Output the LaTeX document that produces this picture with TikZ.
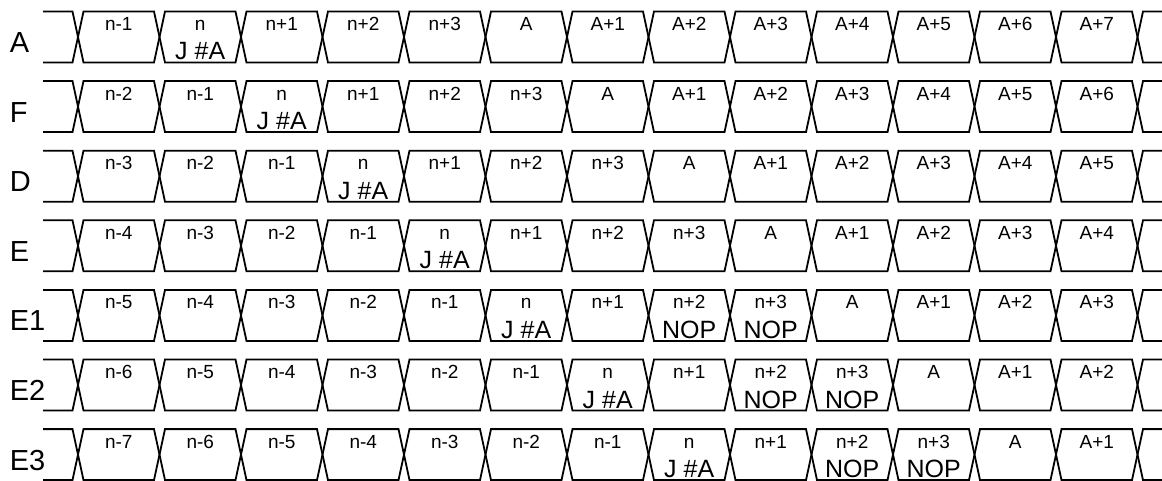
\documentclass[tikz,border=0pt]{standalone}
\usepackage{fontspec}
\setmainfont{Liberation Sans}
\begin{document}
\begin{tikzpicture}[x=1pt,y=-1pt,line width=1.8pt,
    toptext/.style={anchor=base,inner sep=0pt,font=\fontsize{19}{22}\selectfont},
    bottext/.style={anchor=base,inner sep=0pt,font=\fontsize{25}{28}\selectfont},
    rowname/.style={anchor=base west,inner sep=0pt,font=\fontsize{29}{32}\selectfont}]
  \useasboundingbox (0,0) rectangle (1162,481);
  \foreach \sig/\cells [count=\r from 0] in {
      A/{n-1/,n/J \#A,n+1/,n+2/,n+3/,A/,A+1/,A+2/,A+3/,A+4/,A+5/,A+6/,A+7/},
      F/{n-2/,n-1/,n/J \#A,n+1/,n+2/,n+3/,A/,A+1/,A+2/,A+3/,A+4/,A+5/,A+6/},
      D/{n-3/,n-2/,n-1/,n/J \#A,n+1/,n+2/,n+3/,A/,A+1/,A+2/,A+3/,A+4/,A+5/},
      E/{n-4/,n-3/,n-2/,n-1/,n/J \#A,n+1/,n+2/,n+3/,A/,A+1/,A+2/,A+3/,A+4/},
      E1/{n-5/,n-4/,n-3/,n-2/,n-1/,n/J \#A,n+1/,n+2/NOP,n+3/NOP,A/,A+1/,A+2/,A+3/},
      E2/{n-6/,n-5/,n-4/,n-3/,n-2/,n-1/,n/J \#A,n+1/,n+2/NOP,n+3/NOP,A/,A+1/,A+2/},
      E3/{n-7/,n-6/,n-5/,n-4/,n-3/,n-2/,n-1/,n/J \#A,n+1/,n+2/NOP,n+3/NOP,A/,A+1/}}{
    \pgfmathsetmacro{\ytop}{11.5+69.6*\r}
    \pgfmathsetmacro{\ymid}{\ytop+25.5}
    \pgfmathsetmacro{\ybot}{\ytop+51}
    \node[rowname] (lbl\r) at (9,\ytop+41) {\sig};
    % left stub
    \draw (43,\ytop) -- (72.5,\ytop) -- (78,\ymid) -- (72.5,\ybot) -- (43,\ybot);
    \foreach \t/\b [count=\k from 0] in \cells {
      \pgfmathsetmacro{\xa}{78+81.5*\k}
      \pgfmathsetmacro{\xb}{\xa+81.5}
      \draw (\xa,\ymid) -- (\xa+5.5,\ytop) -- (\xb-5.5,\ytop) -- (\xb,\ymid)
        -- (\xb-5.5,\ybot) -- (\xa+5.5,\ybot) -- cycle;
      \node[toptext] (t\r-\k) at (\xa+40.75,\ytop+19) {\t};
      \node[bottext] (b\r-\k) at (\xa+40.75,\ybot-2.5) {\b};
    }
    % right stub
    \draw (1162,\ytop) -- (1143,\ytop) -- (1137.5,\ymid) -- (1143,\ybot) -- (1162,\ybot);
  }
\end{tikzpicture}
\end{document}
